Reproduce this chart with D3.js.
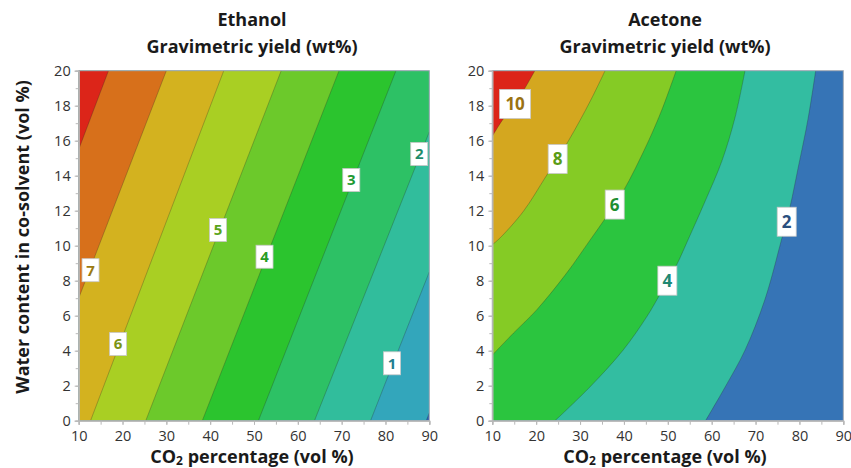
<!DOCTYPE html>
<html>
<head>
<meta charset="utf-8">
<script src="https://cdn.jsdelivr.net/npm/d3@7"></script>
<style>
  body { margin: 0; background: #fff; }
  text { font-family: "Open Sans", "Noto Sans", sans-serif; }
</style>
</head>
<body>
<svg id="chart" width="851" height="468"></svg>
<script>
// axis ticks
const xTicks = [10, 20, 30, 40, 50, 60, 70, 80, 90];
const yTicks = [0, 2, 4, 6, 8, 10, 12, 14, 16, 18, 20];

// ethanol contour lines, [CO2 %, water %]
const ethLevels = [0, 1, 2, 3, 4, 5, 6, 7, 8];
const ethLines = [
  [[89.3, 0], [90, 0.45]],
  [[76.6, 0], [78.9, 1.47], [90, 8.5]],
  [[63.8, 0], [90, 16.5]],
  [[51.0, 0], [82.4, 20]],
  [[38.2, 0], [69.4, 20]],
  [[25.3, 0], [56.2, 20]],
  [[12.7, 0], [43.1, 20]],
  [[10, 7.0], [30.0, 20]],
  [[10, 15.5], [16.8, 20]]
];
// colours from lowest band to highest
const ethColors = ["#2f5fb3", "#33a6bb", "#31bd9c", "#2dc165", "#2bc42e",
  "#6cc92b", "#a9cf23", "#d3b21f", "#d7701b", "#dc2519"];
const ethLabels = [
  {t: "7", x: 12.7, y: 8.6, c: "#9c7a12"},
  {t: "6", x: 19.0, y: 4.38, c: "#7c9414"},
  {t: "5", x: 41.8, y: 10.9, c: "#5aa41c"},
  {t: "4", x: 52.4, y: 9.37, c: "#289c24"},
  {t: "3", x: 72.2, y: 13.75, c: "#1f9a34"},
  {t: "2", x: 87.7, y: 15.24, c: "#1f8c6a"},
  {t: "1", x: 81.5, y: 3.28, c: "#217e90"}
];

// acetone contour lines
const aceLevels = [2, 4, 6, 8, 10];
const aceLines = [
  [[58.6, 0], [63.1, 1.94], [67.6, 4.03], [72.1, 6.9], [75.9, 10.33], [77.8, 12.15],
   [79.7, 14.44], [82.0, 17.3], [83.7, 20]],
  [[24.3, 0], [32.3, 1.94], [39.8, 4.03], [45.2, 5.94], [48.4, 7.3], [52.0, 8.9],
   [54.6, 10.33], [58.5, 12.54], [62.3, 14.82], [65.3, 17.3], [67.6, 20]],
  [[10, 3.75], [14.8, 5.0], [20.1, 6.33], [26.9, 8.42], [32.3, 10.33], [35.3, 11.4],
   [39.8, 13.1], [45.2, 15.77], [48.7, 17.8], [51.9, 20]],
  [[10, 10.06], [11.75, 10.44], [17.1, 11.97], [22.0, 13.87], [27.3, 15.97],
   [32.3, 18.25], [35.7, 20]],
  [[10, 16.25], [12.1, 17.1], [15.6, 18.25], [19.7, 20]]
];
const aceColors = ["#3674b6", "#33bda1", "#2bc53f", "#85cb25", "#d4a71f", "#dc2418"];
const aceLabels = [
  {t: "10", x: 15.2, y: 18.1, c: "#9a7212"},
  {t: "8", x: 24.9, y: 14.95, c: "#5a9c16"},
  {t: "6", x: 37.9, y: 12.35, c: "#1f8e30"},
  {t: "4", x: 49.9, y: 8.0, c: "#208872"},
  {t: "2", x: 77.1, y: 11.37, c: "#2a4f7e"}
];

const svg = d3.select("#chart");
const plotTop = 70.7, plotBottom = 420.7;

function panel(id, left, right, lines, colors, labels, fontSize, titleX, titleName) {
  const x = d3.scaleLinear().domain([10, 90]).range([left, right]);
  const y = d3.scaleLinear().domain([0, 20]).range([plotBottom, plotTop]);
  const g = svg.append("g");

  g.append("clipPath").attr("id", id)
    .append("rect")
    .attr("x", x(10)).attr("y", y(20))
    .attr("width", x(90) - x(10)).attr("height", y(0) - y(20));

  const plot = g.append("g").attr("clip-path", `url(#${id})`);

  // lowest band fills the whole plot
  plot.append("rect")
    .attr("x", x(10)).attr("y", y(20))
    .attr("width", x(90) - x(10)).attr("height", y(0) - y(20))
    .attr("fill", colors[0]);

  const line = d3.line().x(d => x(d[0])).y(d => y(d[1])).curve(d3.curveCatmullRom);

  // each level: the region above it (towards the top-left corner)
  lines.forEach((pts, i) => {
    const s = pts[0], e = pts[pts.length - 1];
    const corners = [];
    if (e[0] >= 90) corners.push([90, 20]);
    corners.push([10, 20]);
    if (s[1] <= 0 && s[0] > 10) corners.push([10, 0]);
    const d = line(pts) + corners.map(c => `L${x(c[0])},${y(c[1])}`).join("") + "Z";
    plot.append("path").attr("d", d).attr("fill", colors[i + 1]);
  });
  lines.forEach(pts => {
    plot.append("path").attr("d", line(pts))
      .attr("fill", "none")
      .attr("stroke", "rgba(40,40,40,0.35)")
      .attr("stroke-width", 0.8);
  });

  // frame
  g.append("rect")
    .attr("x", x(10)).attr("y", y(20))
    .attr("width", x(90) - x(10)).attr("height", y(0) - y(20))
    .attr("fill", "none").attr("stroke", "#9aa4b0").attr("stroke-width", 1);

  // contour labels
  labels.forEach(l => {
    const w = l.t.length > 1 ? 31 : (fontSize > 16 ? 19 : 17);
    const h = fontSize > 16 ? 29 : 23;
    g.append("rect")
      .attr("x", x(l.x) - w / 2).attr("y", y(l.y) - h / 2)
      .attr("width", w).attr("height", h)
      .attr("fill", "#fff").attr("stroke", "#c8c8c8").attr("stroke-width", 0.8);
    g.append("text")
      .attr("x", x(l.x)).attr("y", y(l.y))
      .attr("dy", "0.36em")
      .attr("text-anchor", "middle")
      .attr("font-size", fontSize).attr("font-weight", "bold")
      .attr("fill", l.c)
      .text(l.t);
  });

  // axes
  const minorX = d3.range(10, 91, 5), minorY = d3.range(0, 21, 1);
  const xMinor = g.append("g").attr("transform", `translate(0,${plotBottom})`)
    .call(d3.axisBottom(x).tickValues(minorX).tickSize(4).tickFormat(""));
  const yMinor = g.append("g").attr("transform", `translate(${left},0)`)
    .call(d3.axisLeft(y).tickValues(minorY).tickSize(3).tickFormat(""));
  const xAxis = g.append("g").attr("transform", `translate(0,${plotBottom})`)
    .call(d3.axisBottom(x).tickValues(xTicks).tickSize(4).tickPadding(6));
  const yAxis = g.append("g").attr("transform", `translate(${left},0)`)
    .call(d3.axisLeft(y).tickValues(yTicks).tickSize(4).tickPadding(4));
  [xMinor, yMinor, xAxis, yAxis].forEach(a => {
    a.select(".domain").attr("stroke", "#b8b8b8");
    a.selectAll("line").attr("stroke", "#b8b8b8");
    a.selectAll("text").attr("font-size", 14.5).attr("fill", "#333")
      .attr("font-family", "\"Open Sans\", sans-serif");
  });

  // titles
  g.append("text").attr("x", titleX).attr("y", 26)
    .attr("text-anchor", "middle").attr("font-size", 18).attr("font-weight", "bold")
    .attr("fill", "#1a1a1a").text(titleName);
  g.append("text").attr("x", titleX).attr("y", 53)
    .attr("text-anchor", "middle").attr("font-size", 18).attr("font-weight", "bold")
    .attr("fill", "#1a1a1a").text("Gravimetric yield (wt%)");

  const xt = g.append("text").attr("x", titleX).attr("y", 462.5)
    .attr("text-anchor", "middle").attr("font-size", 18).attr("font-weight", "bold")
    .attr("fill", "#1a1a1a");
  xt.append("tspan").text("CO");
  xt.append("tspan").attr("font-size", 12).attr("dy", 2).text("2");
  xt.append("tspan").attr("dy", -2).text(" percentage (vol %)");
}

panel("clipEth", 78.7, 429.3, ethLines, ethColors, ethLabels, 15, 252, "Ethanol");
panel("clipAce", 492.3, 843.3, aceLines, aceColors, aceLabels, 17, 665, "Acetone");

svg.append("text")
  .attr("transform", "translate(29,237) rotate(-90)")
  .attr("text-anchor", "middle")
  .attr("font-size", 18).attr("font-weight", "bold").attr("fill", "#1a1a1a")
  .text("Water content in co-solvent (vol %)");
</script>
</body>
</html>
